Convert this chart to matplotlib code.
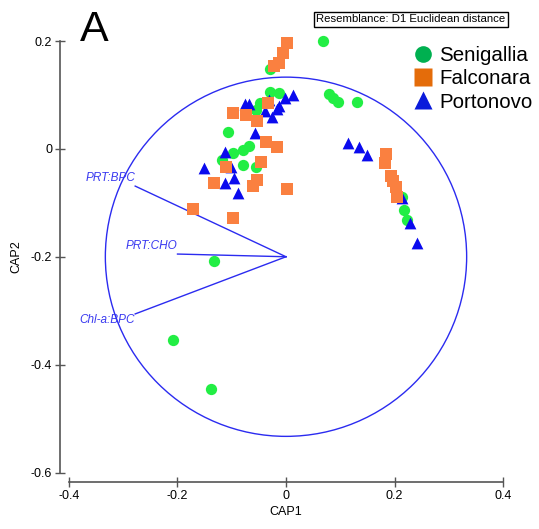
import matplotlib
matplotlib.use('Agg')
import matplotlib.pyplot as plt
from matplotlib.patches import Circle
from matplotlib.lines import Line2D

plt.rcParams['font.family'] = ['Liberation Sans', 'DejaVu Sans']

# CAP ordination scores per site
seni_x = [0.068, -0.030, 0.080, 0.087, 0.095, 0.131, -0.030, -0.013, -0.048, -0.055,
          -0.106, -0.097, -0.118, -0.079, -0.068, -0.080, -0.055, 0.213, 0.218, 0.223,
          -0.132, -0.209, -0.138]
seni_y = [0.200, 0.148, 0.102, 0.095, 0.086, 0.086, 0.106, 0.103, 0.085, 0.072,
          0.032, -0.008, -0.020, -0.003, 0.006, -0.029, -0.033, -0.089, -0.113, -0.132,
          -0.207, -0.354, -0.445]

falc_x = [0.002, -0.006, -0.013, -0.023, -0.033, -0.098, -0.073, -0.054, -0.037, -0.017,
          -0.047, -0.111, -0.054, -0.061, 0.002, -0.133, -0.171, -0.098,
          0.185, 0.183, 0.194, 0.198, 0.202, 0.204]
falc_y = [0.197, 0.178, 0.160, 0.154, 0.085, 0.067, 0.063, 0.051, 0.013, 0.004,
          -0.025, -0.034, -0.057, -0.069, -0.075, -0.063, -0.112, -0.129,
          -0.009, -0.027, -0.051, -0.060, -0.070, -0.090]

port_x = [0.012, -0.002, -0.031, -0.068, -0.076, -0.013, -0.039, -0.017, -0.026, -0.057,
          -0.112, -0.151, -0.101, -0.096, -0.112, -0.088,
          0.115, 0.135, 0.150, 0.213, 0.229, 0.242]
port_y = [0.100, 0.094, 0.091, 0.083, 0.083, 0.080, 0.071, 0.074, 0.060, 0.030,
          -0.006, -0.036, -0.033, -0.054, -0.064, -0.082,
          0.011, 0.003, -0.011, -0.091, -0.138, -0.175]

# variable vectors (drawn from the circle centre)
vec_names = ['PRT:BPC', 'PRT:CHO', 'Chl-a:BPC']
vec_x = [-0.278, -0.200, -0.278]
vec_y = [-0.069, -0.195, -0.306]
origin = (0.0, -0.2)
radius = 0.333

xticks = [-0.4, -0.2, 0, 0.2, 0.4]
yticks = [-0.6, -0.4, -0.2, 0, 0.2]

GREEN = '#22ee44'; ORANGE = '#fa8040'; BLUE = '#0a0aee'
LINE = '#2b2bf0'; AXC = '#555555'

fig = plt.figure(figsize=(5.39, 5.29), dpi=100)
ax = fig.add_axes([69/539, (529-472.5)/529, 434/539, 431.5/529])
ax.set_xlim(-0.4, 0.4); ax.set_ylim(-0.6, 0.2)

ax.add_patch(Circle(origin, radius, fill=False, ec=LINE, lw=1.0))
for name, vx, vy in zip(vec_names, vec_x, vec_y):
    ax.plot([origin[0], vx], [origin[1], vy], color=LINE, lw=1.0)
    dy = -0.012 if vy < -0.25 else 0.015
    ax.text(vx, vy + dy, name, ha='right', va='center', style='italic',
            color='#3a3af0', fontsize=8.5)

ax.scatter(seni_x, seni_y, s=66, marker='o', color=GREEN, lw=0, clip_on=False, zorder=3)
ax.scatter(port_x, port_y, s=72, marker='^', color=BLUE, lw=0, clip_on=False, zorder=4)
ax.scatter(falc_x, falc_y, s=64, marker='s', color=ORANGE, lw=0, clip_on=False, zorder=5)

for side in ('top', 'right'):
    ax.spines[side].set_visible(False)
ax.spines['left'].set_position(('outward', 6.5))
ax.spines['bottom'].set_position(('outward', 6.8))
ax.spines['left'].set_bounds(-0.6, 0.2)
ax.spines['bottom'].set_bounds(-0.4, 0.4)
for side in ('left', 'bottom'):
    ax.spines[side].set_color(AXC); ax.spines[side].set_linewidth(1.2)
ax.set_xticks(xticks); ax.set_yticks(yticks)
ax.set_xticklabels(['-0.4', '-0.2', '0', '0.2', '0.4'])
ax.set_yticklabels(['-0.6', '-0.4', '-0.2', '0', '0.2'])
ax.tick_params(direction='inout', length=7, width=1, color=AXC, labelsize=9, pad=2)
ax.set_xlabel('CAP1', fontsize=9, labelpad=3)
ax.set_ylabel('CAP2', fontsize=9, labelpad=6)

handles = [Line2D([], [], ls='', marker='o', ms=12, mfc='#00b050', mec='none'),
           Line2D([], [], ls='', marker='s', ms=12.5, mfc='#e46c0a', mec='none'),
           Line2D([], [], ls='', marker='^', ms=13, mfc='#0a1adb', mec='none')]
fig.legend(handles, ['Senigallia', 'Falconara', 'Portonovo'], loc='upper left',
           bbox_to_anchor=(403/539, 1-36/529), frameon=False, fontsize=14.8,
           handlelength=0.9, handletextpad=0.35, labelspacing=0.2, borderpad=0)

fig.text(411/539, 1-19.5/529, 'Resemblance: D1 Euclidean distance', ha='center', va='center',
         fontsize=8.2, bbox=dict(boxstyle='square,pad=0.25', fc='white', ec='black', lw=1))
fig.text(80/539, 1-41/529, 'A', fontsize=31, va='baseline')

fig.savefig('out.png')
